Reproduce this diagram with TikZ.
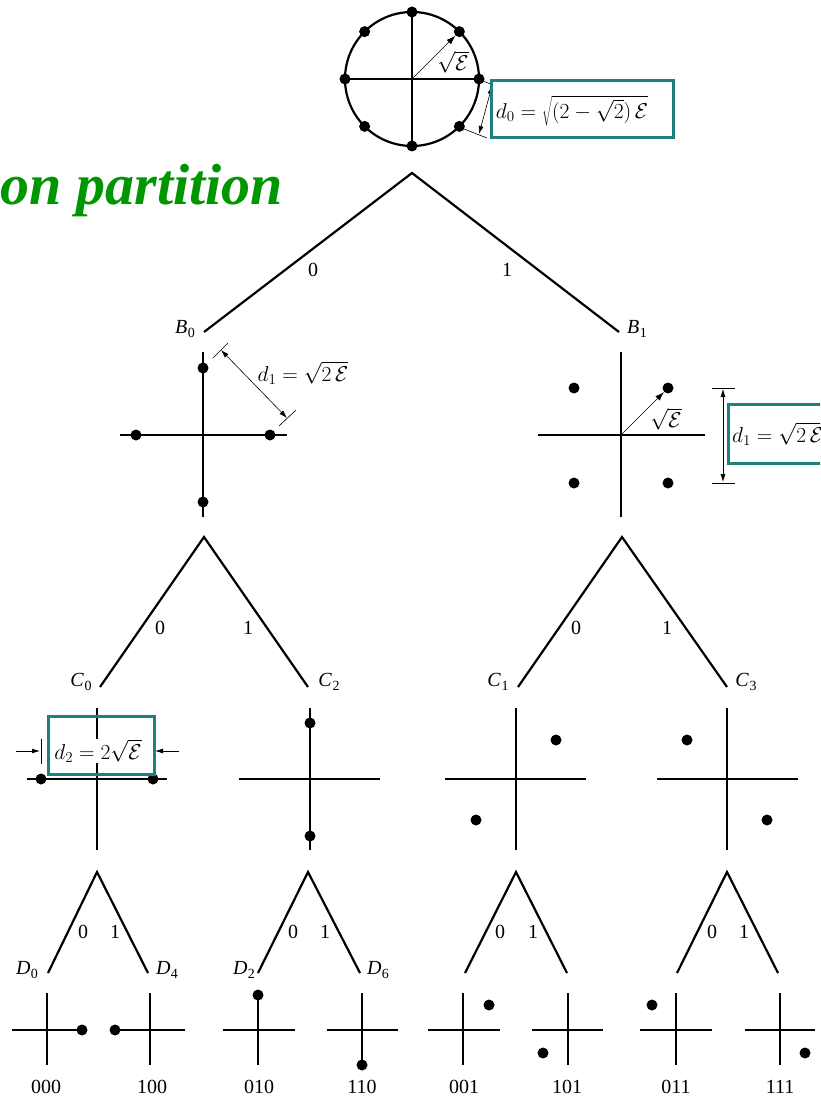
\RequirePackage{fix-cm}
\documentclass[tikz,border=0pt]{standalone}
\usepackage{fontspec}
\setmainfont{Liberation Serif}
\usetikzlibrary{arrows.meta}
\definecolor{boxteal}{RGB}{32,128,128}
\definecolor{titlegreen}{RGB}{0,150,0}
\newcommand{\lab}[2]{\textit{#1}\kern0.5pt\raisebox{-0.4ex}{\fontsize{14}{14}\selectfont #2}}
\begin{document}
\begin{tikzpicture}[x=1pt,y=-1pt,
  axis/.style={line width=2.6pt},
  branch/.style={line width=2.2pt},
  pt/.style={circle,fill=black,inner sep=0pt,minimum size=11pt},
  thinarrow/.style={line width=0.6pt,-{Latex[length=9pt,width=6pt]}},
  dimarrow/.style={line width=0.6pt,{Latex[length=8pt,width=5pt]}-{Latex[length=8pt,width=5pt]}},
  dimtick/.style={line width=0.6pt},
  lbl/.style={font=\fontsize{20}{24}\selectfont,inner sep=1pt},
  mlbl/.style={font=\fontsize{21.5}{25}\selectfont,inner sep=1pt},
  hbox/.style={draw=boxteal,line width=3pt,inner sep=0pt}]
\clip (0,0) rectangle (820,1099);
\fill[white] (0,0) rectangle (820,1099);

% ---------- title
\node[font=\fontsize{58}{60}\selectfont\bfseries\itshape,text=titlegreen,anchor=base east,inner sep=0pt] (title) at (283,205) {on partition};

% ---------- top 8-PSK
\coordinate (o0) at (412,79);
\draw[line width=2.2pt] (o0) circle[radius=67pt];
\draw[axis] (345,79) -- (479,79);
\draw[axis] (412,12) -- (412,146);
\foreach \a in {0,45,...,315} {
  \node[pt] (c\a) at ({412+67*cos(\a)},{79-67*sin(\a)}) {};
}
\draw[thinarrow] (o0) -- (c45);
\node[mlbl] (sE0) at (453,62) {$\sqrt{\mathcal{E}}$};
% d0 dimension
\coordinate (e1a) at (483,81);
\coordinate (e1b) at (498,87);
\coordinate (e2a) at (464,129);
\coordinate (e2b) at (487,138);
\draw[dimtick] (e1a) -- (e1b);
\draw[dimtick] (e2a) -- (e2b);
\coordinate (d0a) at (492,86);
\coordinate (d0b) at (479,134);
\draw[dimarrow] (d0a) -- (d0b);
\node[hbox,fill=white,minimum width=182pt,minimum height=57pt] (box0) at (582,109.5) {};
\node[mlbl] (d0lbl) at (572,111) {$d_0=\sqrt{(2-\sqrt{2})\,\mathcal{E}}$};

% ---------- first split
\coordinate (t1) at (412,173);
\coordinate (b0end) at (204,332);
\coordinate (b1end) at (619,332);
\draw[branch] (b0end) -- (t1) -- (b1end);
\node[lbl] (t1zero) at (313,270) {0};
\node[lbl] (t1one) at (507,270) {1};
\node[lbl] (B0) at (185,329) {\lab{B}{0}};
\node[lbl] (B1) at (637,329) {\lab{B}{1}};

% ---------- B0
\draw[axis] (120,435) -- (287,435);
\draw[axis] (203,352) -- (203,517);
\node[pt] (b0n) at (203,368) {};
\node[pt] (b0s) at (203,502) {};
\node[pt] (b0w) at (136,435) {};
\node[pt] (b0e) at (270,435) {};
\coordinate (k1a) at (213,358);
\coordinate (k1b) at (228,343);
\coordinate (k2a) at (279,426);
\coordinate (k2b) at (296,410);
\draw[dimtick] (k1a) -- (k1b);
\draw[dimtick] (k2a) -- (k2b);
\coordinate (d1a) at (221,350);
\coordinate (d1b) at (287,418);
\draw[dimarrow] (d1a) -- (d1b);
\node[mlbl] (d1lbl) at (303,373) {$d_1=\sqrt{2\,\mathcal{E}}$};

% ---------- B1
\coordinate (ob1) at (621,435);
\draw[axis] (538,435) -- (705,435);
\draw[axis] (621,352) -- (621,517);
\node[pt] (b1a) at (574,388) {};
\node[pt] (b1b) at (668,388) {};
\node[pt] (b1c) at (574,483) {};
\node[pt] (b1d) at (668,483) {};
\draw[thinarrow] (ob1) -- (b1b);
\node[mlbl] (sE1) at (666,419) {$\sqrt{\mathcal{E}}$};
\coordinate (v1a) at (712,388);
\coordinate (v1b) at (735,388);
\coordinate (v2a) at (712,483);
\coordinate (v2b) at (735,483);
\draw[dimtick] (v1a) -- (v1b);
\draw[dimtick] (v2a) -- (v2b);
\coordinate (dva) at (723,389);
\coordinate (dvb) at (723,482);
\draw[dimarrow] (dva) -- (dvb);
\node[hbox,fill=white,anchor=north west,minimum width=140pt,minimum height=59pt] (box1) at (727,403) {};
\node[mlbl,anchor=west] (d1blbl) at (731,434) {$d_1=\sqrt{2\,\mathcal{E}}$};

% ---------- second level trees
\coordinate (t2a) at (204,537);
\coordinate (c0end) at (100,687);
\coordinate (c2end) at (308,687);
\draw[branch] (c0end) -- (t2a) -- (c2end);
\node[lbl] (t2azero) at (160,628) {0};
\node[lbl] (t2aone) at (248,628) {1};
\node[lbl] (C0) at (81,682) {\lab{C}{0}};
\node[lbl] (C2) at (329,682) {\lab{C}{2}};

\coordinate (t2b) at (622,537);
\coordinate (c1end) at (518,687);
\coordinate (c3end) at (727,687);
\draw[branch] (c1end) -- (t2b) -- (c3end);
\node[lbl] (t2bzero) at (576,628) {0};
\node[lbl] (t2bone) at (667,628) {1};
\node[lbl] (C1) at (498,682) {\lab{C}{1}};
\node[lbl] (C3) at (746,682) {\lab{C}{3}};

% ---------- C0
\draw[axis] (27,779) -- (167,779);
\draw[axis] (97,708) -- (97,850);
\node[pt] (c0w) at (41,779) {};
\node[pt] (c0e) at (153,779) {};
\node[hbox,anchor=north west,minimum width=106pt,minimum height=58pt] (box2) at (47,715) {};
\coordinate (q1a) at (41,739);
\coordinate (q1b) at (41,764);
\draw[dimtick] (q1a) -- (q1b);
\coordinate (ar1) at (16,751);
\coordinate (ar1e) at (40,751);
\coordinate (ar2) at (179,751);
\coordinate (ar2e) at (155,751);
\draw[line width=0.8pt,-{Latex[length=8pt,width=5pt]}] (ar1) -- (ar1e);
\draw[line width=0.8pt,-{Latex[length=8pt,width=5pt]}] (ar2) -- (ar2e);
\node[mlbl,fill=white] (d2lbl) at (98,751) {$d_2=2\sqrt{\mathcal{E}}$};

% ---------- C2
\draw[axis] (239,779) -- (380,779);
\draw[axis] (310,708) -- (310,850);
\node[pt] (c2n) at (310,723) {};
\node[pt] (c2s) at (310,836) {};

% ---------- C1
\draw[axis] (445,779) -- (586,779);
\draw[axis] (516,708) -- (516,850);
\node[pt] (c1a) at (556,740) {};
\node[pt] (c1b) at (476,820) {};

% ---------- C3
\draw[axis] (657,779) -- (798,779);
\draw[axis] (727,708) -- (727,850);
\node[pt] (c3a) at (687,740) {};
\node[pt] (c3b) at (767,820) {};

% ---------- third level trees
\coordinate (t3a) at (97,872);
\coordinate (d0end) at (48,973);
\coordinate (d4end) at (148,973);
\draw[branch] (d0end) -- (t3a) -- (d4end);
\node[lbl] (t3azero) at (83,932) {0};
\node[lbl] (t3aone) at (115,932) {1};
\node[lbl] (D0) at (27,970) {\lab{D}{0}};
\node[lbl] (D4) at (167,970) {\lab{D}{4}};

\coordinate (t3b) at (308,872);
\coordinate (d2end) at (258,973);
\coordinate (d6end) at (360,973);
\draw[branch] (d2end) -- (t3b) -- (d6end);
\node[lbl] (t3bzero) at (293,932) {0};
\node[lbl] (t3bone) at (325,932) {1};
\node[lbl] (D2) at (244,970) {\lab{D}{2}};
\node[lbl] (D6) at (378,970) {\lab{D}{6}};

\coordinate (t3c) at (516,872);
\coordinate (d1end) at (465,973);
\coordinate (d5end) at (567,973);
\draw[branch] (d1end) -- (t3c) -- (d5end);
\node[lbl] (t3czero) at (500,932) {0};
\node[lbl] (t3cone) at (533,932) {1};

\coordinate (t3d) at (727,872);
\coordinate (d3end) at (677,973);
\coordinate (d7end) at (778,973);
\draw[branch] (d3end) -- (t3d) -- (d7end);
\node[lbl] (t3dzero) at (712,932) {0};
\node[lbl] (t3done) at (744,932) {1};

% ---------- D constellations
% 000
\draw[axis] (12,1030) -- (82,1030);
\draw[axis] (47,993) -- (47,1065);
\node[pt] (p000) at (82,1030) {};
% 100
\draw[axis] (115,1030) -- (185,1030);
\draw[axis] (150,993) -- (150,1065);
\node[pt] (p100) at (115,1030) {};
% 010
\draw[axis] (223,1030) -- (295,1030);
\draw[axis] (258,995) -- (258,1065);
\node[pt] (p010) at (258,995) {};
% 110
\draw[axis] (327,1030) -- (398,1030);
\draw[axis] (362,993) -- (362,1065);
\node[pt] (p110) at (362,1065) {};
% 001
\draw[axis] (428,1030) -- (500,1030);
\draw[axis] (463,993) -- (463,1065);
\node[pt] (p001) at (489,1005) {};
% 101
\draw[axis] (532,1030) -- (603,1030);
\draw[axis] (568,993) -- (568,1065);
\node[pt] (p101) at (543,1053) {};
% 011
\draw[axis] (640,1030) -- (712,1030);
\draw[axis] (676,993) -- (676,1065);
\node[pt] (p011) at (652,1005) {};
% 111
\draw[axis] (745,1030) -- (815,1030);
\draw[axis] (780,993) -- (780,1065);
\node[pt] (p111) at (805,1053) {};

% bit labels
\node[lbl] (l000) at (46,1087) {000};
\node[lbl] (l100) at (152,1087) {100};
\node[lbl] (l010) at (259,1087) {010};
\node[lbl] (l110) at (362,1087) {110};
\node[lbl] (l001) at (464,1087) {001};
\node[lbl] (l101) at (567,1087) {101};
\node[lbl] (l011) at (676,1087) {011};
\node[lbl] (l111) at (780,1087) {111};
\end{tikzpicture}
\end{document}
